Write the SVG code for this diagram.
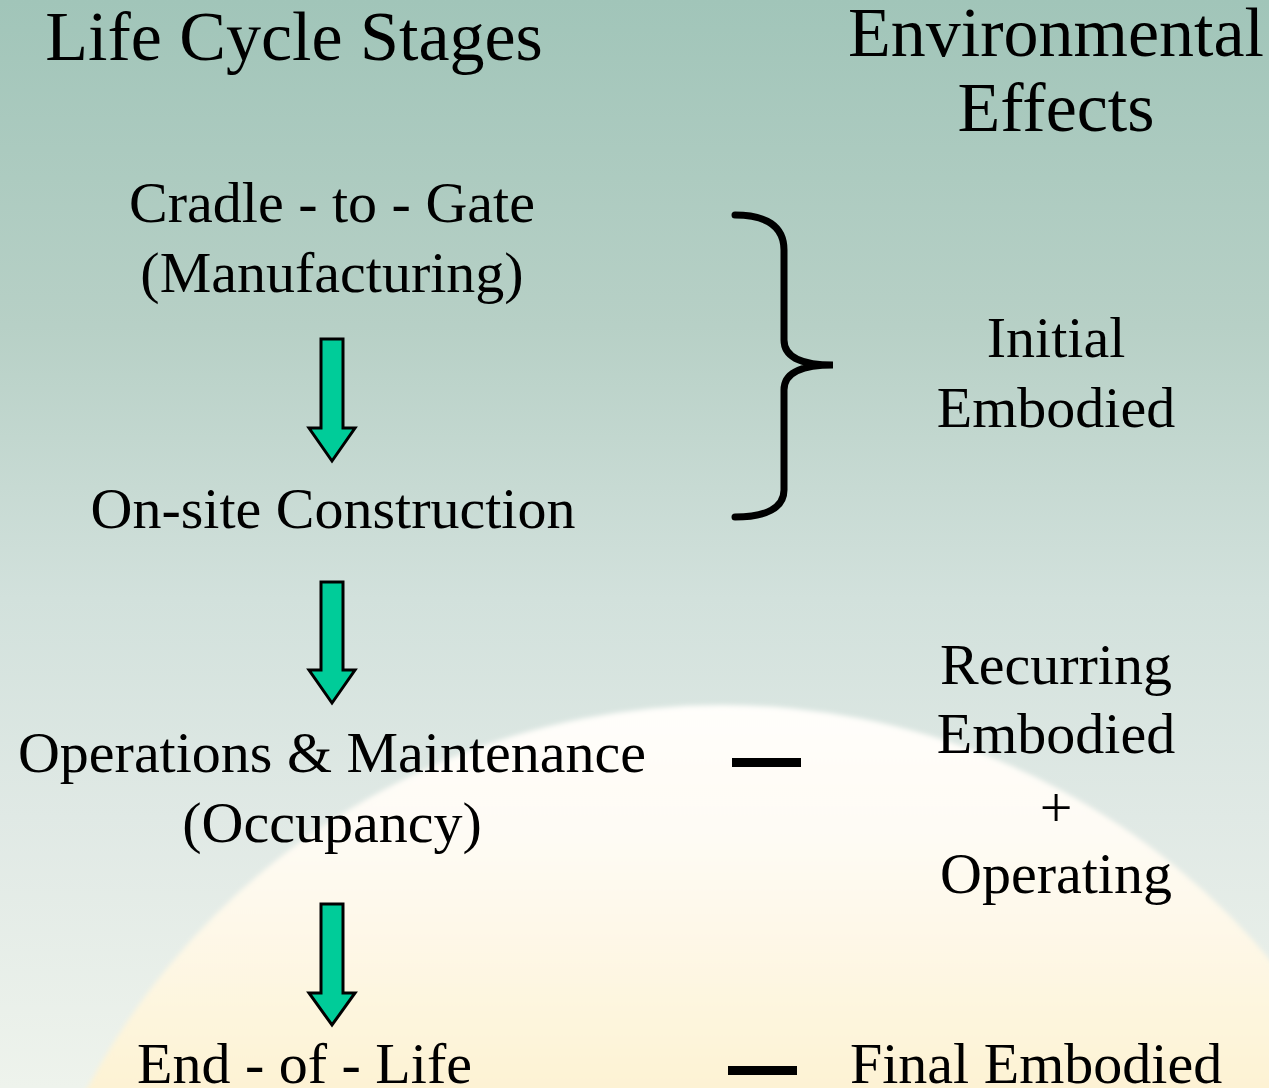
<svg xmlns="http://www.w3.org/2000/svg" width="1269" height="1088" viewBox="0 0 1269 1088">
  <defs>
    <linearGradient id="bg" x1="0" y1="0" x2="0" y2="1">
      <stop offset="0" stop-color="#a1c5b9"/>
      <stop offset="0.3" stop-color="#b7d0c6"/>
      <stop offset="0.55" stop-color="#d2e1dc"/>
      <stop offset="0.75" stop-color="#e0e9e5"/>
      <stop offset="1" stop-color="#eef3ec"/>
    </linearGradient>
    <linearGradient id="sun" x1="0" y1="0" x2="0" y2="1" gradientUnits="userSpaceOnUse" gradientTransform="translate(0,700) scale(1,400)">
      <stop offset="0" stop-color="#fffefb"/>
      <stop offset="0.35" stop-color="#fefbf4"/>
      <stop offset="1" stop-color="#fdf2d2"/>
    </linearGradient>
    <filter id="soft" x="-10%" y="-10%" width="120%" height="120%">
      <feGaussianBlur stdDeviation="2.5"/>
    </filter>
    <style>
      .t { font-family: "Liberation Serif", "Times New Roman", serif; fill: #000; }
      .h { font-size: 70px; }
      .b { font-size: 58px; }
      .arrow { fill: #00cc99; stroke: #000; stroke-width: 3; stroke-linejoin: miter; }
      .brace { fill: none; stroke: #000; stroke-width: 7; stroke-linecap: round; }
    </style>
  </defs>

  <rect x="0" y="0" width="1269" height="1088" fill="url(#bg)"/>
  <circle cx="722" cy="1422" r="717" fill="url(#sun)" filter="url(#soft)"/>

  <g id="header-stages">
    <text class="t h" x="294" y="60" text-anchor="middle">Life Cycle Stages</text>
  </g>
  <g id="header-effects">
    <text class="t h" x="1056" y="56" text-anchor="middle">Environmental</text>
    <text class="t h" x="1056" y="131" text-anchor="middle">Effects</text>
  </g>

  <g id="stage-cradle">
    <text class="t b" x="332" y="222" text-anchor="middle">Cradle - to - Gate</text>
    <text class="t b" x="332" y="292" text-anchor="middle">(Manufacturing)</text>
  </g>
  <g id="stage-construction">
    <text class="t b" x="333" y="528" text-anchor="middle">On-site Construction</text>
  </g>
  <g id="stage-operations">
    <text class="t b" x="332" y="772" text-anchor="middle">Operations &amp; Maintenance</text>
    <text class="t b" x="332" y="842" text-anchor="middle">(Occupancy)</text>
  </g>
  <g id="stage-end">
    <text class="t b" x="137" y="1083">End - of - Life</text>
  </g>

  <g id="effect-initial">
    <text class="t b" x="1056" y="357" text-anchor="middle">Initial</text>
    <text class="t b" x="1056" y="427" text-anchor="middle">Embodied</text>
  </g>
  <g id="effect-recurring">
    <text class="t b" x="1056" y="684" text-anchor="middle">Recurring</text>
    <text class="t b" x="1056" y="753" text-anchor="middle">Embodied</text>
    <text class="t b" x="1056" y="827" text-anchor="middle">+</text>
    <text class="t b" x="1056" y="893" text-anchor="middle">Operating</text>
  </g>
  <g id="effect-final">
    <text class="t b" x="850" y="1083">Final Embodied</text>
  </g>

  <g id="connectors">
    <path class="arrow" d="M321,339 H343 V428 H355 L332,461 L309,428 H321 Z"/>
    <path class="arrow" d="M321,582 H343 V670 H355 L332,703 L309,670 H321 Z"/>
    <path class="arrow" d="M321,904 H343 V993 H355 L332,1025 L309,993 H321 Z"/>
    <path class="brace" d="M735,215 C766,215 784,226 784,250 L784,340 C784,356 800,365 833,365 C800,365 784,374 784,390 L784,490 C784,508 766,517 735,517"/>
    <rect x="732" y="758" width="69" height="9" fill="#000"/>
    <rect x="728" y="1066" width="69" height="9" fill="#000"/>
  </g>
</svg>
